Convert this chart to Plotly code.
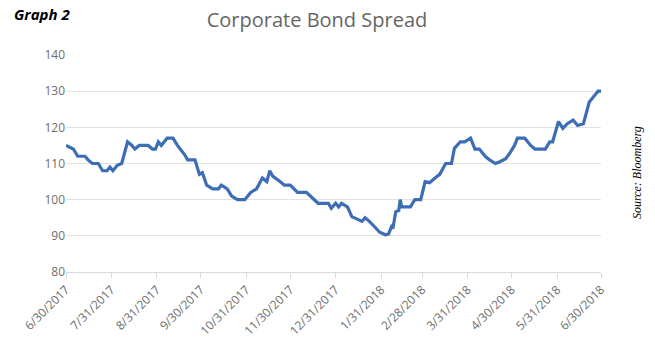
import plotly.graph_objects as go

dates = [
    "2017-06-30", "2017-07-03", "2017-07-05", "2017-07-08", "2017-07-13", "2017-07-15",
    "2017-07-18", "2017-07-22", "2017-07-25", "2017-07-28", "2017-07-30", "2017-08-01",
    "2017-08-04", "2017-08-07", "2017-08-11", "2017-08-14", "2017-08-16", "2017-08-19",
    "2017-08-25", "2017-08-28", "2017-08-30", "2017-09-01", "2017-09-03", "2017-09-07",
    "2017-09-11", "2017-09-14", "2017-09-19", "2017-09-21", "2017-09-26", "2017-09-29",
    "2017-10-01", "2017-10-04", "2017-10-08", "2017-10-12", "2017-10-14", "2017-10-18",
    "2017-10-21", "2017-10-25", "2017-10-30", "2017-11-03", "2017-11-07", "2017-11-11",
    "2017-11-14", "2017-11-16", "2017-11-18", "2017-11-23", "2017-11-26", "2017-11-30",
    "2017-12-05", "2017-12-11", "2017-12-16", "2017-12-19", "2017-12-26", "2017-12-28",
    "2017-12-31", "2018-01-02", "2018-01-04", "2018-01-08", "2018-01-11", "2018-01-15",
    "2018-01-18", "2018-01-20", "2018-01-23", "2018-01-27", "2018-01-30", "2018-02-03",
    "2018-02-05", "2018-02-07", "2018-02-08", "2018-02-10", "2018-02-12", "2018-02-13",
    "2018-02-14", "2018-02-20", "2018-02-23", "2018-02-27", "2018-03-02", "2018-03-05",
    "2018-03-07", "2018-03-10", "2018-03-12", "2018-03-16", "2018-03-20", "2018-03-22",
    "2018-03-26", "2018-03-29", "2018-04-02", "2018-04-05", "2018-04-08", "2018-04-12",
    "2018-04-15", "2018-04-19", "2018-04-22", "2018-04-26", "2018-04-29", "2018-05-02",
    "2018-05-04", "2018-05-09", "2018-05-13", "2018-05-16", "2018-05-23", "2018-05-26",
    "2018-05-28", "2018-06-01", "2018-06-04", "2018-06-07", "2018-06-11", "2018-06-14",
    "2018-06-18", "2018-06-20", "2018-06-22", "2018-06-26", "2018-06-28", "2018-06-30",
]

spread = [
    115, 114.5, 114, 112, 112, 111,
    110, 110, 108, 108, 109, 108,
    109.5, 110, 116, 115, 114, 115,
    115, 114, 114, 116, 115, 117,
    117, 115, 112.4, 111, 111, 107,
    107.5, 104, 103, 103, 104, 103,
    101, 100, 100, 102, 103, 106,
    105, 108, 106.5, 105, 104, 104,
    102, 102, 100, 99, 99, 97.6,
    99, 98, 99, 98, 95.3, 94.5,
    94, 95, 94, 92.3, 91, 90.3,
    90.5, 92.5, 92, 96.7, 97, 100,
    98, 98, 100, 100, 105, 104.7,
    105.5, 106.4, 107, 110, 110, 114.2,
    116, 116, 117, 114, 114, 112,
    111, 110, 110.5, 111.3, 113, 115,
    117, 117, 115, 114, 114, 116,
    116, 121.6, 119.7, 121, 122, 120.5,
    121, 124, 127, 129, 130, 130,
]

tick_dates = [
    "2017-06-30", "2017-07-31", "2017-08-31", "2017-09-30", "2017-10-31", "2017-11-30",
    "2017-12-31", "2018-01-31", "2018-02-28", "2018-03-31", "2018-04-30", "2018-05-31",
    "2018-06-30",
]
tick_labels = [
    "6/30/2017", "7/31/2017", "8/31/2017", "9/30/2017", "10/31/2017", "11/30/2017",
    "12/31/2017", "1/31/2018", "2/28/2018", "3/31/2018", "4/30/2018", "5/31/2018",
    "6/30/2018",
]
y_ticks = [80, 90, 100, 110, 120, 130, 140]

fig = go.Figure()
fig.add_trace(go.Scatter(
    x=dates, y=spread, mode="lines",
    line=dict(color="#3D6DB5", width=3.2),
    showlegend=False,
))

fig.update_layout(
    width=655, height=351,
    margin=dict(l=66, r=54, t=55, b=79),
    paper_bgcolor="white", plot_bgcolor="white",
    font=dict(family="Open Sans, Liberation Sans, sans-serif", color="#666666"),
    title=dict(
        text="Corporate Bond Spread",
        xref="paper", x=(317 - 66) / 535, xanchor="center",
        yref="container", y=1 - 20 / 351, yanchor="middle",
        font=dict(size=20, color="#666666", family="Open Sans, sans-serif"),
    ),
    xaxis=dict(
        type="date",
        range=["2017-06-30", "2018-06-30"],
        tickmode="array", tickvals=tick_dates, ticktext=tick_labels,
        tickangle=-45, tickfont=dict(size=12, color="#6E6E6E"),
        showgrid=False, zeroline=False,
        showline=True, linecolor="#D9D9D9", linewidth=1,
        ticks="outside", ticklen=5, tickcolor="#D9D9D9",
    ),
    yaxis=dict(
        range=[80, 140], tickmode="array", tickvals=y_ticks,
        tickfont=dict(size=12, color="#6E6E6E"),
        showgrid=True, gridcolor="#E3E3E3", gridwidth=1,
        zeroline=False, showline=False, ticks="", ticklen=0,
    ),
)

fig.add_annotation(
    text="<b><i>Graph 2</i></b>",
    xref="paper", yref="paper",
    x=-66 / 535 + 12 / 535, y=1 + (55 - 14) / 217,
    xanchor="left", yanchor="middle", showarrow=False,
    font=dict(size=15, color="black", family="Open Sans, sans-serif"),
)
fig.add_annotation(
    text="<i>Source: Bloomberg</i>",
    xref="paper", yref="paper",
    x=1 + (637 - 601) / 535, y=(272 - 173) / 217,
    xanchor="center", yanchor="middle", textangle=-90, showarrow=False,
    font=dict(size=12, color="black", family="Liberation Serif, serif"),
)

fig.write_html("out.html")
